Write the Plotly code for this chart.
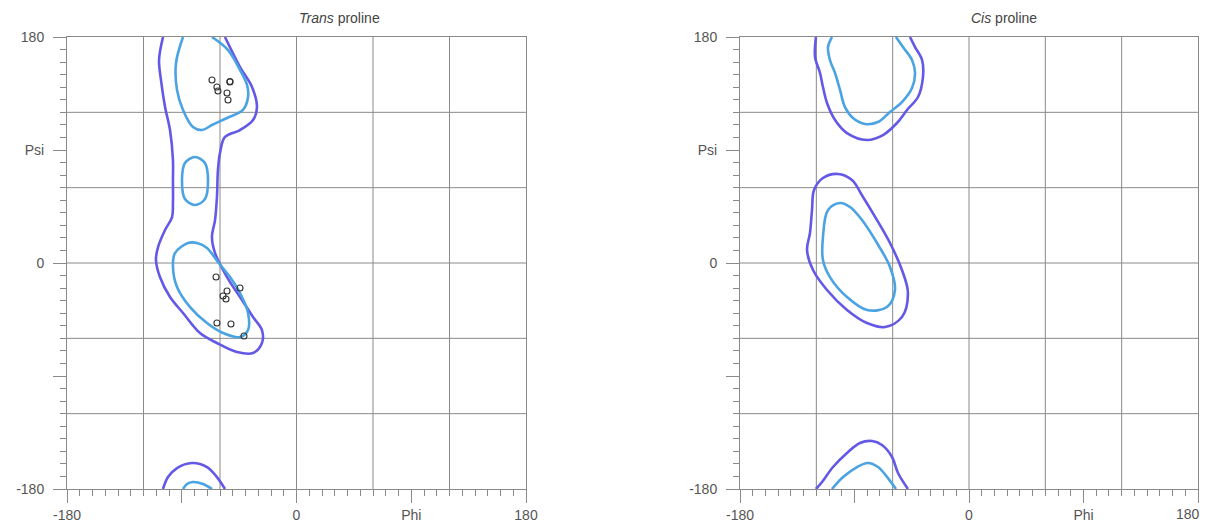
import plotly.graph_objects as go

# ---------------- data ----------------
GRID_VALUES = [-120, -60, 0, 60, 120]
TICK_VALUES = [-180, -90, 0, 90, 180]
X_TICK_TEXT = ["-180", "", "0", "Phi", "180"]
X2_TICK_TEXT = ["-180", "", "0", "Phi", ""]
X2_END_LABEL = "180"
Y_TICK_TEXT = ["-180", "", "0", "Psi", "180"]

# Trans proline: outer contour (main body, wraps at psi=+180)
trans_outer_phi = [-104.7, -107.8, -106.3, -103.1, -99.2, -96.9, -96.9, -96.9, -97.6, -103.1,
                   -108.6, -110.2, -107.1, -99.2, -89.0, -75.7, -62.4, -46.7, -34.1, -27.1,
                   -27.1, -34.1, -44.3, -54.5, -63.9, -66.3, -63.9, -62.4, -61.6, -60.0,
                   -56.1, -44.3, -34.1, -31.0, -34.9, -44.3, -56.1]
trans_outer_psi = [180.0, 161.7, 145.8, 124.2, 105.9, 82.0, 66.1, 47.8, 36.6, 26.3,
                   12.7, 2.4, -11.2, -27.1, -39.8, -55.8, -63.7, -70.9, -71.7, -63.7,
                   -53.4, -43.0, -27.1, -11.2, 7.9, 20.7, 34.2, 52.6, 74.1, 87.6,
                   100.4, 105.9, 113.9, 124.2, 140.2, 156.1, 180.0]
# Trans proline: outer contour, part wrapped at psi=-180
trans_outer_wrap_phi = [-104.7, -100.8, -93.7, -82.0, -70.2, -62.4, -56.1]
trans_outer_wrap_psi = [-180.0, -170.5, -163.3, -159.3, -162.5, -170.5, -180.0]

# Trans proline: inner contours
trans_inner_top_phi = [-89.0, -94.5, -93.7, -89.0, -81.2, -74.1, -66.3, -54.5, -42.0, -38.0,
                       -38.8, -44.3, -53.7, -66.3]
trans_inner_top_psi = [180.0, 159.3, 137.8, 121.9, 108.3, 105.9, 109.9, 115.5, 121.9, 132.2,
                       141.8, 153.7, 169.6, 180.0]
trans_inner_wrap_phi = [-89.0, -85.9, -81.2, -73.3, -66.3]
trans_inner_wrap_psi = [-180.0, -176.0, -174.4, -176.0, -180.0]
trans_inner_mid_phi = [-79.6, -71.8, -69.4, -71.8, -79.6, -87.5, -89.8, -87.5, -79.6]
trans_inner_mid_psi = [84.4, 79.6, 65.3, 51.0, 46.2, 51.0, 65.3, 79.6, 84.4]
trans_inner_low_phi = [-85.1, -95.3, -96.9, -93.7, -83.5, -70.2, -57.6, -44.3, -38.0, -38.0,
                       -44.3, -52.2, -61.6, -70.2, -78.0, -85.1]
trans_inner_low_psi = [15.9, 7.9, -3.2, -19.1, -35.1, -47.8, -55.8, -59.0, -53.4, -39.8,
                       -23.9, -11.2, 0.8, 12.0, 15.9, 15.9]

# Trans proline: observed residues
trans_res_phi = [-66.3, -62.4, -61.6, -52.2, -52.2, -54.5, -53.7,
                 -63.1, -44.3, -54.5, -57.6, -55.3, -62.4, -51.4, -41.2]
trans_res_psi = [145.8, 140.2, 137.0, 144.2, 144.6, 135.4, 129.8,
                 -11.2, -19.9, -22.3, -26.3, -28.7, -47.8, -48.6, -58.2]

# Cis proline: outer contours
cis_outer_top_phi = [-120.3, -121.0, -117.1, -114.8, -111.6, -105.3, -95.9, -80.2, -67.6, -56.6,
                     -48.7, -40.1, -36.2, -36.9, -42.4, -46.4]
cis_outer_top_psi = [180.0, 164.1, 151.3, 140.2, 127.4, 113.9, 103.5, 98.0, 101.9, 111.5,
                     121.9, 132.2, 148.1, 161.7, 172.0, 180.0]
cis_outer_mid_phi = [-103.0, -114.8, -121.8, -123.4, -125.0, -127.3, -122.6, -111.6, -95.9, -80.2,
                     -66.0, -52.7, -48.0, -52.7, -62.1, -72.3, -83.3, -92.0, -103.0]
cis_outer_mid_psi = [70.9, 67.7, 58.1, 42.2, 23.9, 10.3, -5.6, -21.5, -37.4, -47.8,
                     -51.0, -43.0, -23.9, -5.6, 15.9, 34.2, 52.6, 66.1, 70.9]
cis_outer_low_phi = [-120.3, -115.5, -106.9, -95.9, -85.7, -76.2, -68.4, -60.5, -55.8, -48.0]
cis_outer_low_psi = [-180.0, -174.4, -162.5, -151.3, -143.4, -141.8, -145.0, -154.5, -167.3, -180.0]

# Cis proline: inner contours
cis_inner_top_phi = [-107.7, -110.8, -109.3, -105.3, -101.4, -97.5, -91.2, -81.7, -71.5, -62.1,
                     -52.7, -44.8, -42.4, -44.8, -51.9, -57.4]
cis_inner_top_psi = [180.0, 172.0, 161.7, 151.3, 137.8, 124.2, 115.5, 110.7, 112.3, 120.3,
                     128.2, 139.4, 151.3, 161.7, 172.0, 180.0]
cis_inner_mid_phi = [-101.4, -110.8, -114.8, -114.8, -109.3, -95.9, -80.2, -64.5, -58.2, -62.1,
                     -72.3, -84.1, -93.5, -101.4]
cis_inner_mid_psi = [47.8, 42.2, 20.7, 2.4, -11.2, -27.1, -37.4, -35.1, -21.5, -3.2,
                     15.9, 34.2, 44.6, 47.8]
cis_inner_low_phi = [-107.7, -99.0, -88.0, -79.4, -71.5, -63.7, -57.4]
cis_inner_low_psi = [-180.0, -170.5, -162.5, -159.3, -162.5, -171.3, -180.0]

# ---------------- style ----------------
OUTER = "#6458E6"
INNER = "#4AA3E2"
GRID_C = "#8a8a8a"
TEXT_C = "#555555"
FONT = "Liberation Sans, Arial, sans-serif"

fig = go.Figure()


def contour(phi, psi, color, xa, ya):
    fig.add_trace(go.Scatter(x=phi, y=psi, mode="lines", xaxis=xa, yaxis=ya,
                             line=dict(color=color, width=2.6, shape="spline", smoothing=1.0),
                             hoverinfo="skip", showlegend=False))


for phi, psi in [(trans_outer_phi, trans_outer_psi), (trans_outer_wrap_phi, trans_outer_wrap_psi)]:
    contour(phi, psi, OUTER, "x", "y")
for phi, psi in [(trans_inner_top_phi, trans_inner_top_psi), (trans_inner_wrap_phi, trans_inner_wrap_psi),
                 (trans_inner_mid_phi, trans_inner_mid_psi), (trans_inner_low_phi, trans_inner_low_psi)]:
    contour(phi, psi, INNER, "x", "y")

fig.add_trace(go.Scatter(x=trans_res_phi, y=trans_res_psi, mode="markers", xaxis="x", yaxis="y",
                         marker=dict(symbol="circle-open", size=6, color="#333333", line=dict(width=1.1)),
                         showlegend=False))

for phi, psi in [(cis_outer_top_phi, cis_outer_top_psi), (cis_outer_mid_phi, cis_outer_mid_psi),
                 (cis_outer_low_phi, cis_outer_low_psi)]:
    contour(phi, psi, OUTER, "x2", "y2")
for phi, psi in [(cis_inner_top_phi, cis_inner_top_psi), (cis_inner_mid_phi, cis_inner_mid_psi),
                 (cis_inner_low_phi, cis_inner_low_psi)]:
    contour(phi, psi, INNER, "x2", "y2")


def axis(domain, anchor, ticktext, standoff):
    return dict(domain=domain, anchor=anchor, range=[-180, 180], tickmode="array",
                tickvals=TICK_VALUES, ticktext=ticktext, ticks="outside", ticklen=13,
                tickcolor=GRID_C, tickwidth=1, showgrid=False, zeroline=False,
                showline=True, mirror=True, linecolor=GRID_C, linewidth=1,
                tickfont=dict(family=FONT, size=14, color=TEXT_C), ticklabelstandoff=standoff,
                minor=dict(dtick=10, tick0=0, ticks="outside", ticklen=6, tickcolor=GRID_C,
                           tickwidth=1, showgrid=False),
                automargin=False, fixedrange=True)


W, H = 1204, 515
YDOM = [(H - 481) / H, (H - 29) / H]
fig.update_layout(
    width=W, height=H, margin=dict(l=0, r=0, t=0, b=0, autoexpand=False),
    paper_bgcolor="white", plot_bgcolor="white",
    xaxis=axis([59 / W, 518 / W], "y", X_TICK_TEXT, 0),
    yaxis=axis(YDOM, "x", Y_TICK_TEXT, 6),
    xaxis2=axis([732 / W, 1190 / W], "y2", X2_TICK_TEXT, 0),
    yaxis2=axis(YDOM, "x2", Y_TICK_TEXT, 6),
    font=dict(family=FONT, color=TEXT_C),
)

shapes = []
for xr, yr in [("x", "y"), ("x2", "y2")]:
    for g in GRID_VALUES:
        shapes.append(dict(type="line", xref=xr, yref=yr + " domain", x0=g, x1=g, y0=0, y1=1,
                           layer="below", line=dict(color=GRID_C, width=1)))
        shapes.append(dict(type="line", xref=xr + " domain", yref=yr, x0=0, x1=1, y0=g, y1=g,
                           layer="below", line=dict(color=GRID_C, width=1)))
fig.update_layout(shapes=shapes)

for xr, txt in [("x", "<i>Trans</i> proline"), ("x2", "<i>Cis</i> proline")]:
    fig.add_annotation(x=0, xref=xr, y=(H - 10) / H, yref="paper", text=txt, showarrow=False,
                       xanchor="left", yanchor="middle",
                       font=dict(family=FONT, size=14, color="#444444"))

# end label of the right-hand Phi axis, kept inside the visible page
fig.add_annotation(x=TICK_VALUES[-1], xref="x2", y=TICK_VALUES[0], yref="y2", text=X2_END_LABEL,
                   showarrow=False, xanchor="right", xshift=4, yanchor="middle", yshift=-25,
                   font=dict(family=FONT, size=14, color=TEXT_C))

fig.write_html("out.html")
